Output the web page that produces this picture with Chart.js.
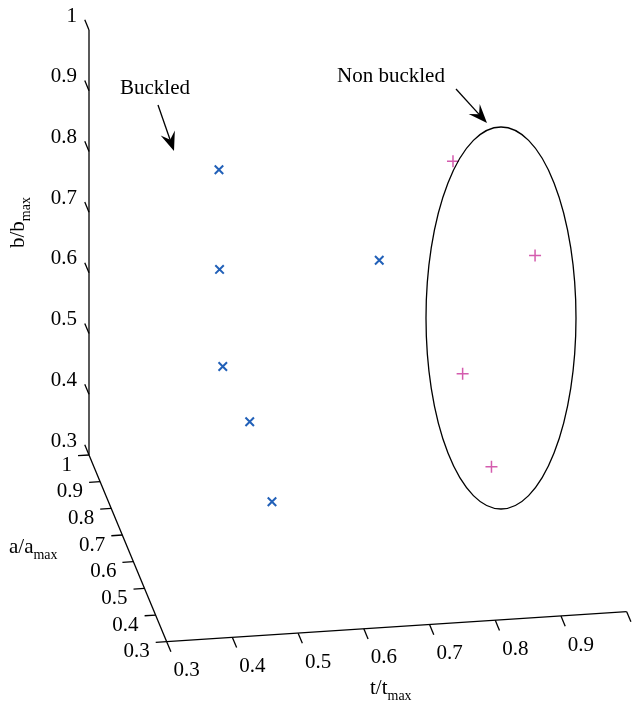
<!DOCTYPE html>
<html>
<head>
<meta charset="utf-8">
<script src="https://cdn.jsdelivr.net/npm/chart.js@4"></script>
<style>
  html, body { margin: 0; padding: 0; background: #fff; overflow: hidden; }
  #wrap { width: 637px; height: 701px; position: relative; }
  #chart3d { display: block; }
</style>
</head>
<body>
<div id="wrap"><canvas id="chart3d"></canvas></div>
<script>

/* DATA */
var tickValues = [0.3, 0.4, 0.5, 0.6, 0.7, 0.8, 0.9, 1];
var tickLabels = ['0.3', '0.4', '0.5', '0.6', '0.7', '0.8', '0.9', '1'];

// buckled specimens (t/tmax, a/amax, b/bmax)
var buckledT = [0.464, 0.448, 0.436, 0.477, 0.494, 0.691];
var buckledA = [0.8, 0.7, 0.6, 0.6, 0.5, 0.7];
var buckledB = [0.846, 0.727, 0.612, 0.518, 0.429, 0.725];

// non buckled specimens
var nonBuckledT = [0.837, 0.945, 0.801, 0.828];
var nonBuckledA = [0.9, 0.8, 0.6, 0.5];
var nonBuckledB = [0.790, 0.671, 0.574, 0.463];
/* DATA */


/* 3D VIEW -> 2D */
var origin = { x: 166.7, y: 641.7 };
var tVec = { x: 460, y: -30 };
var aVec = { x: -77.7, y: -186.7 };
var bVec = { x: 0, y: -425 };

function project(t, a, b) {
  var u = (t - 0.3) / 0.7, v = (a - 0.3) / 0.7, w = (b - 0.3) / 0.7;
  return {
    x: origin.x + u * tVec.x + v * aVec.x + w * bVec.x,
    y: origin.y + u * tVec.y + v * aVec.y + w * bVec.y
  };
}

function toPoints(ts, as, bs) {
  var pts = [];
  for (var i = 0; i < ts.length; i++) {
    pts.push(project(ts[i], as[i], bs[i]));
  }
  return pts;
}

function unit(v) {
  var l = Math.sqrt(v.x * v.x + v.y * v.y);
  return { x: v.x / l, y: v.y / l };
}

var serif = '"Liberation Serif", "Times New Roman", serif';

function subText(ctx, main, sub, x, y) {
  ctx.textAlign = 'left';
  ctx.textBaseline = 'alphabetic';
  ctx.font = '21px ' + serif;
  ctx.fillText(main, x, y);
  var w = ctx.measureText(main).width;
  ctx.font = '14px ' + serif;
  ctx.fillText(sub, x + w, y + 6);
}

function drawArrow(ctx, x1, y1, x2, y2) {
  var dx = x2 - x1, dy = y2 - y1;
  var l = Math.sqrt(dx * dx + dy * dy);
  var ux = dx / l, uy = dy / l, nx = -uy, ny = ux;
  var L = 19, W = 15;
  ctx.beginPath();
  ctx.moveTo(x1, y1);
  ctx.lineTo(x2 - ux * L * 0.6, y2 - uy * L * 0.6);
  ctx.stroke();
  ctx.beginPath();
  ctx.moveTo(x2, y2);
  ctx.lineTo(x2 - ux * L + nx * W / 2, y2 - uy * L + ny * W / 2);
  ctx.lineTo(x2 - ux * L * 0.62, y2 - uy * L * 0.62);
  ctx.lineTo(x2 - ux * L - nx * W / 2, y2 - uy * L - ny * W / 2);
  ctx.closePath();
  ctx.fill();
}

/* AXES PLUGIN */
var axesPlugin = {
  id: 'axes3d',
  beforeDatasetsDraw: function (chart) {
    var ctx = chart.ctx, xs = chart.scales.x, ys = chart.scales.y;
    function px(p) { return { x: xs.getPixelForValue(p.x), y: ys.getPixelForValue(p.y) }; }
    function line(p, q) {
      ctx.beginPath();
      ctx.moveTo(p.x, p.y);
      ctx.lineTo(q.x, q.y);
      ctx.stroke();
    }
    var aDir = unit(aVec), tDir = unit(tVec);
    var tick = 11;

    ctx.save();
    ctx.strokeStyle = '#000';
    ctx.fillStyle = '#000';
    ctx.lineWidth = 1.3;

    line(px(project(0.3, 0.3, 0.3)), px(project(1, 0.3, 0.3)));
    line(px(project(0.3, 0.3, 0.3)), px(project(0.3, 1, 0.3)));
    line(px(project(0.3, 1, 0.3)), px(project(0.3, 1, 1)));

    ctx.font = '21px ' + serif;
    ctx.textBaseline = 'middle';
    for (var i = 0; i < tickValues.length; i++) {
      var v = tickValues[i];

      // t axis
      var p = px(project(v, 0.3, 0.3));
      line(p, { x: p.x - aDir.x * tick, y: p.y - aDir.y * tick });
      ctx.textAlign = 'center';
      ctx.fillText(tickLabels[i], p.x + 20, p.y + 29);

      // a axis
      p = px(project(0.3, v, 0.3));
      line(p, { x: p.x - tDir.x * tick, y: p.y - tDir.y * tick });
      ctx.textAlign = 'right';
      ctx.fillText(tickLabels[i], p.x - 17, p.y + 10);

      // b axis
      p = px(project(0.3, 1, v));
      line(p, { x: p.x + aDir.x * tick, y: p.y + aDir.y * tick });
      ctx.textAlign = 'right';
      ctx.fillText(tickLabels[i], p.x - 12, p.y - 14);
    }

    subText(ctx, 't/t', 'max', 370, 694);
    subText(ctx, 'a/a', 'max', 9, 553);
    ctx.save();
    ctx.translate(24, 248);
    ctx.rotate(-Math.PI / 2);
    subText(ctx, 'b/b', 'max', 0, 0);
    ctx.restore();

    ctx.restore();
  },
  afterDatasetsDraw: function (chart) {
    var ctx = chart.ctx, xs = chart.scales.x, ys = chart.scales.y;
    ctx.save();
    ctx.strokeStyle = '#000';
    ctx.fillStyle = '#000';
    ctx.lineWidth = 1.3;

    // ellipse round the non buckled group
    var cx = xs.getPixelForValue(501), cy = ys.getPixelForValue(318);
    ctx.beginPath();
    ctx.ellipse(cx, cy, xs.getPixelForValue(576) - cx, ys.getPixelForValue(509) - cy, 0, 0, Math.PI * 2);
    ctx.stroke();

    ctx.textAlign = 'left';
    ctx.textBaseline = 'alphabetic';
    ctx.font = '21px ' + serif;
    ctx.fillText('Buckled', xs.getPixelForValue(120), ys.getPixelForValue(94));
    ctx.fillText('Non buckled', xs.getPixelForValue(337), ys.getPixelForValue(82));

    drawArrow(ctx, xs.getPixelForValue(158), ys.getPixelForValue(105), xs.getPixelForValue(174), ys.getPixelForValue(151));
    drawArrow(ctx, xs.getPixelForValue(456), ys.getPixelForValue(89), xs.getPixelForValue(487), ys.getPixelForValue(123));
    ctx.restore();
  }
};

var ctx = document.getElementById('chart3d');
var myChart = new Chart(ctx, {
  type: 'scatter',
  data: {
    datasets: [{
      label: 'Buckled',
      data: toPoints(buckledT, buckledA, buckledB),
      pointStyle: 'crossRot',
      pointRadius: 6,
      pointBorderWidth: 2,
      borderColor: '#2160b8',
      backgroundColor: '#2160b8'
    }, {
      label: 'Non buckled',
      data: toPoints(nonBuckledT, nonBuckledA, nonBuckledB),
      pointStyle: 'cross',
      pointRadius: 6,
      pointBorderWidth: 1.5,
      borderColor: '#d45cae',
      backgroundColor: '#d45cae'
    }]
  },
  options: {
    responsive: true,
    maintainAspectRatio: false,
    animation: false,
    layout: { padding: 0, autoPadding: false },
    plugins: { legend: { display: false }, tooltip: { enabled: false } },
    scales: {
      x: { type: 'linear', min: 0, max: 637, display: false },
      y: { type: 'linear', min: 0, max: 701, reverse: true, display: false }
    }
  },
  plugins: [axesPlugin]
});
</script>
</body>
</html>
